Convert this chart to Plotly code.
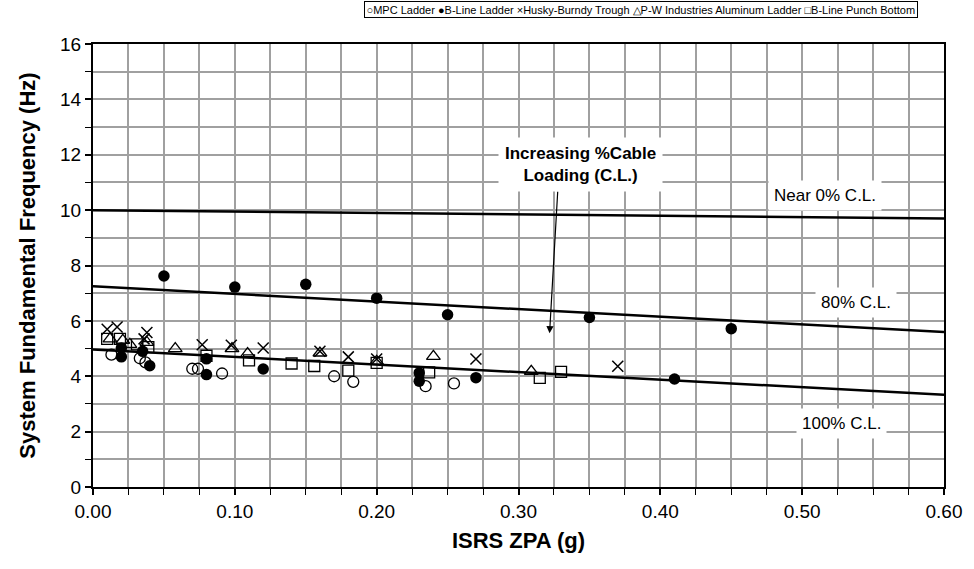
import plotly.graph_objects as go

# ---- data ----
mpc_x = [0.013, 0.033, 0.037, 0.070, 0.074, 0.091, 0.170, 0.1835, 0.2345, 0.2545]
mpc_y = [4.78, 4.65, 4.50, 4.27, 4.27, 4.10, 4.00, 3.80, 3.64, 3.74]

bline_x = [0.050, 0.100, 0.150, 0.200, 0.250, 0.350, 0.450,
           0.020, 0.020, 0.035, 0.040, 0.080, 0.080, 0.120, 0.230, 0.230, 0.270, 0.410]
bline_y = [7.62, 7.22, 7.32, 6.82, 6.22, 6.12, 5.72,
           5.02, 4.70, 4.90, 4.38, 4.63, 4.06, 4.26, 4.12, 3.82, 3.95, 3.90]

husky_x = [0.010, 0.017, 0.036, 0.038, 0.077, 0.0975, 0.120, 0.160, 0.180, 0.200, 0.270, 0.370]
husky_y = [5.70, 5.78, 5.35, 5.58, 5.14, 5.12, 5.02, 4.90, 4.70, 4.62, 4.62, 4.36]

pw_x = [0.012, 0.021, 0.026, 0.038, 0.058, 0.098, 0.109, 0.160, 0.200, 0.240, 0.309]
pw_y = [5.35, 5.30, 5.15, 5.22, 5.00, 5.00, 4.82, 4.84, 4.54, 4.72, 4.18]

punch_x = [0.010, 0.019, 0.031, 0.039, 0.080, 0.110, 0.140, 0.156, 0.180, 0.200, 0.237, 0.315, 0.330]
punch_y = [5.35, 5.35, 5.15, 5.05, 4.74, 4.57, 4.46, 4.37, 4.20, 4.48, 4.14, 3.94, 4.16]

# trend lines (x ends, y ends)
line_x = [0.0, 0.6]
near0_y = [10.0, 9.70]
cl80_y = [7.25, 5.60]
cl100_y = [4.97, 3.33]

series_names = ["MPC Ladder", "B-Line Ladder", "Husky-Burndy Trough",
                "P-W Industries Aluminum Ladder", "B-Line Punch Bottom"]
legend_glyphs = ["○", "●", "×", "△", "□"]

x_title = "ISRS ZPA (g)"
y_title = "System Fundamental Frequency (Hz)"

FONT = "Liberation Sans, Arial, sans-serif"

fig = go.Figure()

for ly in (near0_y, cl80_y, cl100_y):
    fig.add_trace(go.Scatter(x=line_x, y=ly, mode="lines",
                             line=dict(color="black", width=2.5),
                             showlegend=False, hoverinfo="skip"))

def add_pts(xs, ys, name, symbol, size, lw=1.3):
    fig.add_trace(go.Scatter(
        x=xs, y=ys, mode="markers", name=name, showlegend=False,
        marker=dict(symbol=symbol, size=size,
                    color="black",
                    line=dict(color="black", width=lw))))

add_pts(mpc_x, mpc_y, series_names[0], "circle-open", 11)
add_pts(bline_x, bline_y, series_names[1], "circle", 11.5, lw=0)
add_pts(husky_x, husky_y, series_names[2], "x-thin-open", 11, lw=1.5)
add_pts(pw_x, pw_y, series_names[3], "triangle-up-open", 12)
add_pts(punch_x, punch_y, series_names[4], "square-open", 11)

grid_col = "#a0a0a0"
fig.update_xaxes(range=[0, 0.6], dtick=0.1, tick0=0, tickformat=".2f",
                 showgrid=True, gridcolor=grid_col, gridwidth=1.5,
                 ticks="outside", ticklen=6, tickwidth=1.5, tickcolor="black",
                 minor=dict(dtick=0.025, showgrid=True, gridcolor=grid_col, gridwidth=1.5,
                            ticks="outside", ticklen=6, tickwidth=1.2, tickcolor="black"),
                 showline=True, linecolor="black", linewidth=2, mirror=True,
                 zeroline=False,
                 tickfont=dict(family=FONT, size=19, color="black"),
                 title=dict(text="<b>" + x_title + "</b>", standoff=12,
                            font=dict(family=FONT, size=22, color="black")))
fig.update_yaxes(range=[0, 16], dtick=2, tick0=0,
                 showgrid=True, gridcolor=grid_col, gridwidth=1.5,
                 ticks="outside", ticklen=6, tickwidth=1.5, tickcolor="black",
                 minor=dict(dtick=1, showgrid=True, gridcolor=grid_col, gridwidth=1.5,
                            ticks="outside", ticklen=6, tickwidth=1.2, tickcolor="black"),
                 showline=True, linecolor="black", linewidth=2, mirror=True,
                 zeroline=False,
                 tickfont=dict(family=FONT, size=19, color="black"),
                 title=dict(text="<b>" + y_title + "</b>", standoff=18,
                            font=dict(family=FONT, size=22, color="black")))

# legend drawn as boxed text line
legend_text = " ".join(g + n for g, n in zip(legend_glyphs, series_names))
fig.add_annotation(xref="paper", yref="paper", x=0.6435, y=1.078,
                   xanchor="center", yanchor="middle", showarrow=False,
                   text=legend_text, font=dict(family=FONT, size=11, color="black"),
                   bgcolor="white", bordercolor="black", borderwidth=1, borderpad=1.5)

# text labels
fig.add_annotation(x=0.344, y=11.64, xref="x", yref="y", showarrow=False,
                   text="<b>Increasing %Cable<br>Loading (C.L.)</b>",
                   font=dict(family=FONT, size=17, color="black"),
                   bgcolor="white", borderpad=6)
fig.add_annotation(x=0.3219, y=5.55, ax=0.3277, ay=10.72, xref="x", yref="y",
                   axref="x", ayref="y", showarrow=True, text="",
                   arrowhead=2, arrowsize=1.2, arrowwidth=1.2, arrowcolor="black")
fig.add_annotation(x=0.516, y=10.54, xref="x", yref="y", showarrow=False,
                   text="Near 0% C.L.", font=dict(family=FONT, size=17, color="black"),
                   bgcolor="white", borderpad=5)
fig.add_annotation(x=0.538, y=6.67, xref="x", yref="y", showarrow=False,
                   text="80% C.L.", font=dict(family=FONT, size=17, color="black"),
                   bgcolor="white", borderpad=5)
fig.add_annotation(x=0.5275, y=2.31, xref="x", yref="y", showarrow=False,
                   text="100% C.L.", font=dict(family=FONT, size=17, color="black"),
                   bgcolor="white", borderpad=5)

fig.update_layout(width=974, height=569,
                  margin=dict(l=93, r=22, t=44, b=82),
                  plot_bgcolor="white", paper_bgcolor="white",
                  showlegend=False)

fig.write_html("out.html")
